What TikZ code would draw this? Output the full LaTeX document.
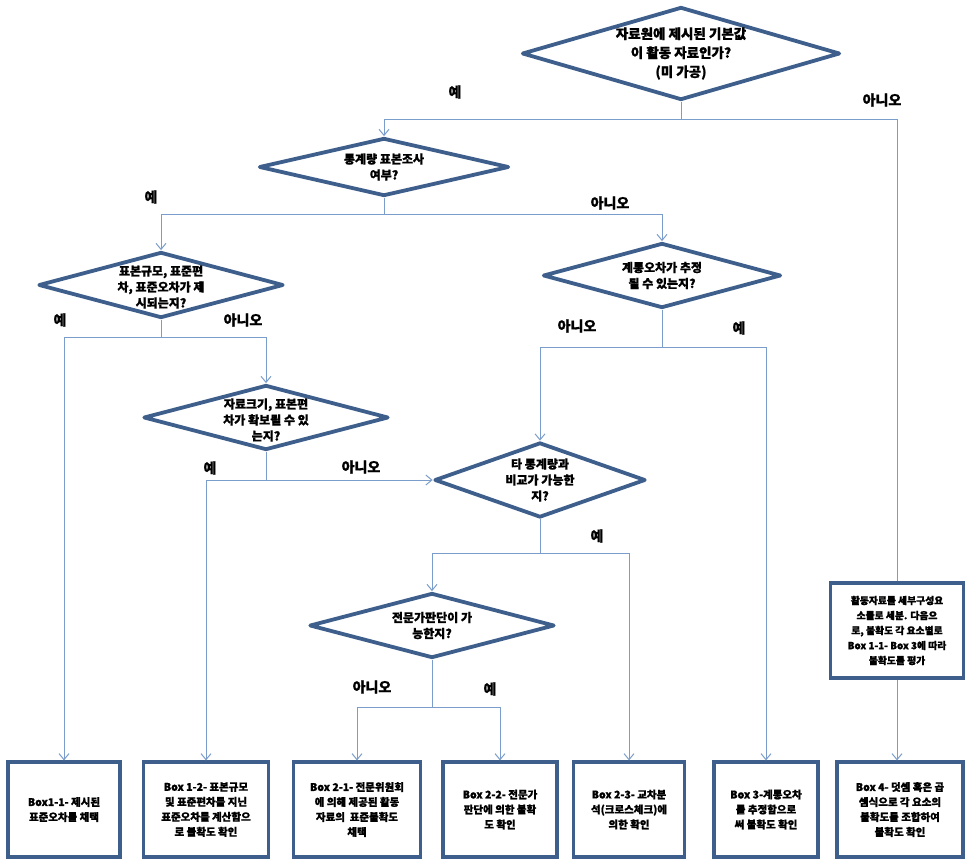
\documentclass[tikz,border=0pt]{standalone}
\usepackage{fontspec}
\newfontfamily\kr{Noto Sans CJK KR}[FakeBold=1.1]
\usetikzlibrary{shapes.geometric,arrows.meta}
\definecolor{frame}{HTML}{3E5F8C}
\definecolor{wire}{HTML}{7B9DCB}
\tikzset{
  dia/.style={diamond, draw=frame, line width=3.8pt, line join=round, fill=white, inner sep=0pt},
  dtext/.style={align=center, inner sep=0pt, font=\kr\bfseries\fontsize{12}{16}\selectfont},
  dtextbig/.style={align=center, inner sep=0pt, font=\kr\bfseries\fontsize{13.5}{19}\selectfont},
  resultbox/.style={rectangle, draw=frame, line width=3.2pt, fill=white, inner sep=0pt,
    align=center, minimum height=95pt, font=\kr\bfseries\fontsize{10.5}{15}\selectfont},
  lab/.style={inner sep=0pt, font=\kr\bfseries\fontsize{14}{16}\selectfont},
  wireline/.style={draw=wire, line width=1pt},
  arr/.style={wireline, -{Straight Barb[length=6pt,width=10pt]}}
}
\begin{document}
\begin{tikzpicture}[x=1pt,y=-1pt]
\useasboundingbox[fill=white] (0,0) rectangle (966,859);

% decision diamonds
\node[dia, minimum width=318pt, minimum height=93pt] (d1) at (681,53.5) {};
\node[dtextbig] (d1t) at (d1) {자료원에 제시된 기본값\\이 활동 자료인가?\\(미 가공)};

\node[dia, minimum width=250pt, minimum height=58pt] (d2) at (384,167) {};
\node[dtext] (d2t) at (d2) {통계량 표본조사\\여부?};

\node[dia, minimum width=245pt, minimum height=66pt] (d3) at (161,285) {};
\node[dtext] (d3t) at (161,287) {표본규모, 표준편\\차, 표준오차가 제\\시되는지?};

\node[dia, minimum width=238pt, minimum height=65pt] (d4) at (662,275.5) {};
\node[dtext] (d4t) at (d4) {계통오차가 추정\\될 수 있는지?};

\node[dia, minimum width=245pt, minimum height=65pt] (d5) at (266,417.5) {};
\node[dtext] (d5t) at (266,420) {자료크기, 표본편\\차가 확보될 수 있\\는지?};

\node[dia, minimum width=211pt, minimum height=75pt] (d6) at (540,480) {};
\node[dtext] (d6t) at (d6) {타 통계량과\\비교가 가능한\\지?};

\node[dia, minimum width=245pt, minimum height=65pt] (d7) at (432,625.5) {};
\node[dtext] (d7t) at (d7) {전문가판단이 가\\능한지?};

% result boxes
\node[resultbox, minimum width=133pt, font=\kr\bfseries\fontsize{9.8}{15}\selectfont] (b0) at (897,630.5) {활동자료를 세부구성요\\소들로 세분. 다음으\\로, 불확도 각 요소별로\\Box 1-1- Box 3에 따라\\불확도를 평가};

\node[resultbox, minimum width=112pt] (b11) at (64,809.5) {Box1-1- 제시된\\표준오차를 채택};
\node[resultbox, minimum width=125pt] (b12) at (206,809.5) {Box 1-2- 표본규모\\및 표준편차를 지닌\\표준오차를 계산함으\\로 불확도 확인};
\node[resultbox, minimum width=127pt] (b21) at (357,809.5) {Box 2-1- 전문위원회\\에 의해 제공된 활동\\자료의\ \ 표준불확도\\채택};
\node[resultbox, minimum width=114pt] (b22) at (500,809.5) {Box 2-2- 전문가\\판단에 의한 불확\\도 확인};
\node[resultbox, minimum width=111pt] (b23) at (629,809.5) {Box 2-3- 교차분\\석(크로스체크)에\\의한 확인};
\node[resultbox, minimum width=104pt] (b3) at (766,809.5) {Box 3-계통오차\\를 추정함으로\\써 불확도 확인};
\node[resultbox, minimum width=126pt] (b4) at (900,809.5) {Box 4- 덧셈 혹은 곱\\셈식으로 각 요소의\\불확도를 조합하여\\불확도 확인};

% branch junctions
\coordinate (j1) at (681,119);
\coordinate (j2) at (384,214);
\coordinate (j3) at (161,337);
\coordinate (j4) at (662,347);
\coordinate (j5) at (266,480);
\coordinate (j6) at (540,553);
\coordinate (j7) at (432,707);

% connectors
\draw[wireline] (d1.south) -- (j1);
\draw[arr] (j1) -| (d2.north);
\draw[wireline] (j1) -| (b0.north);

\draw[wireline] (d2.south) -- (j2);
\draw[arr] (j2) -| (d3.north);
\draw[arr] (j2) -| (d4.north);

\draw[wireline] (d3.south) -- (j3);
\draw[arr] (j3) -| (b11.north);
\draw[arr] (j3) -| (d5.north);

\draw[wireline] (d4.south) -- (j4);
\draw[arr] (j4) -| (d6.north);
\draw[arr] (j4) -| (b3.north);

\draw[wireline] (d5.south) -- (j5);
\draw[arr] (j5) -| (b12.north);
\draw[arr] (j5) -- (d6.west);

\draw[wireline] (d6.south) -- (j6);
\draw[arr] (j6) -| (d7.north);
\draw[arr] (j6) -| (b23.north);

\draw[wireline] (d7.south) -- (j7);
\draw[arr] (j7) -| (b21.north);
\draw[arr] (j7) -| (b22.north);

\draw[arr] (b0.south) -- (b0.south |- b4.north);

% branch labels
\node[lab] (l1y) at (455,92) {예};
\node[lab] (l1n) at (882,100) {아니오};
\node[lab] (l2y) at (151,197) {예};
\node[lab] (l2n) at (610,203) {아니오};
\node[lab] (l3y) at (60,320) {예};
\node[lab] (l3n) at (243,320) {아니오};
\node[lab] (l4n) at (577,326) {아니오};
\node[lab] (l4y) at (739,328) {예};
\node[lab] (l5y) at (210,468) {예};
\node[lab] (l5n) at (361,467) {아니오};
\node[lab] (l6y) at (597,536) {예};
\node[lab] (l7n) at (372,687) {아니오};
\node[lab] (l7y) at (490,689) {예};
\end{tikzpicture}
\end{document}
